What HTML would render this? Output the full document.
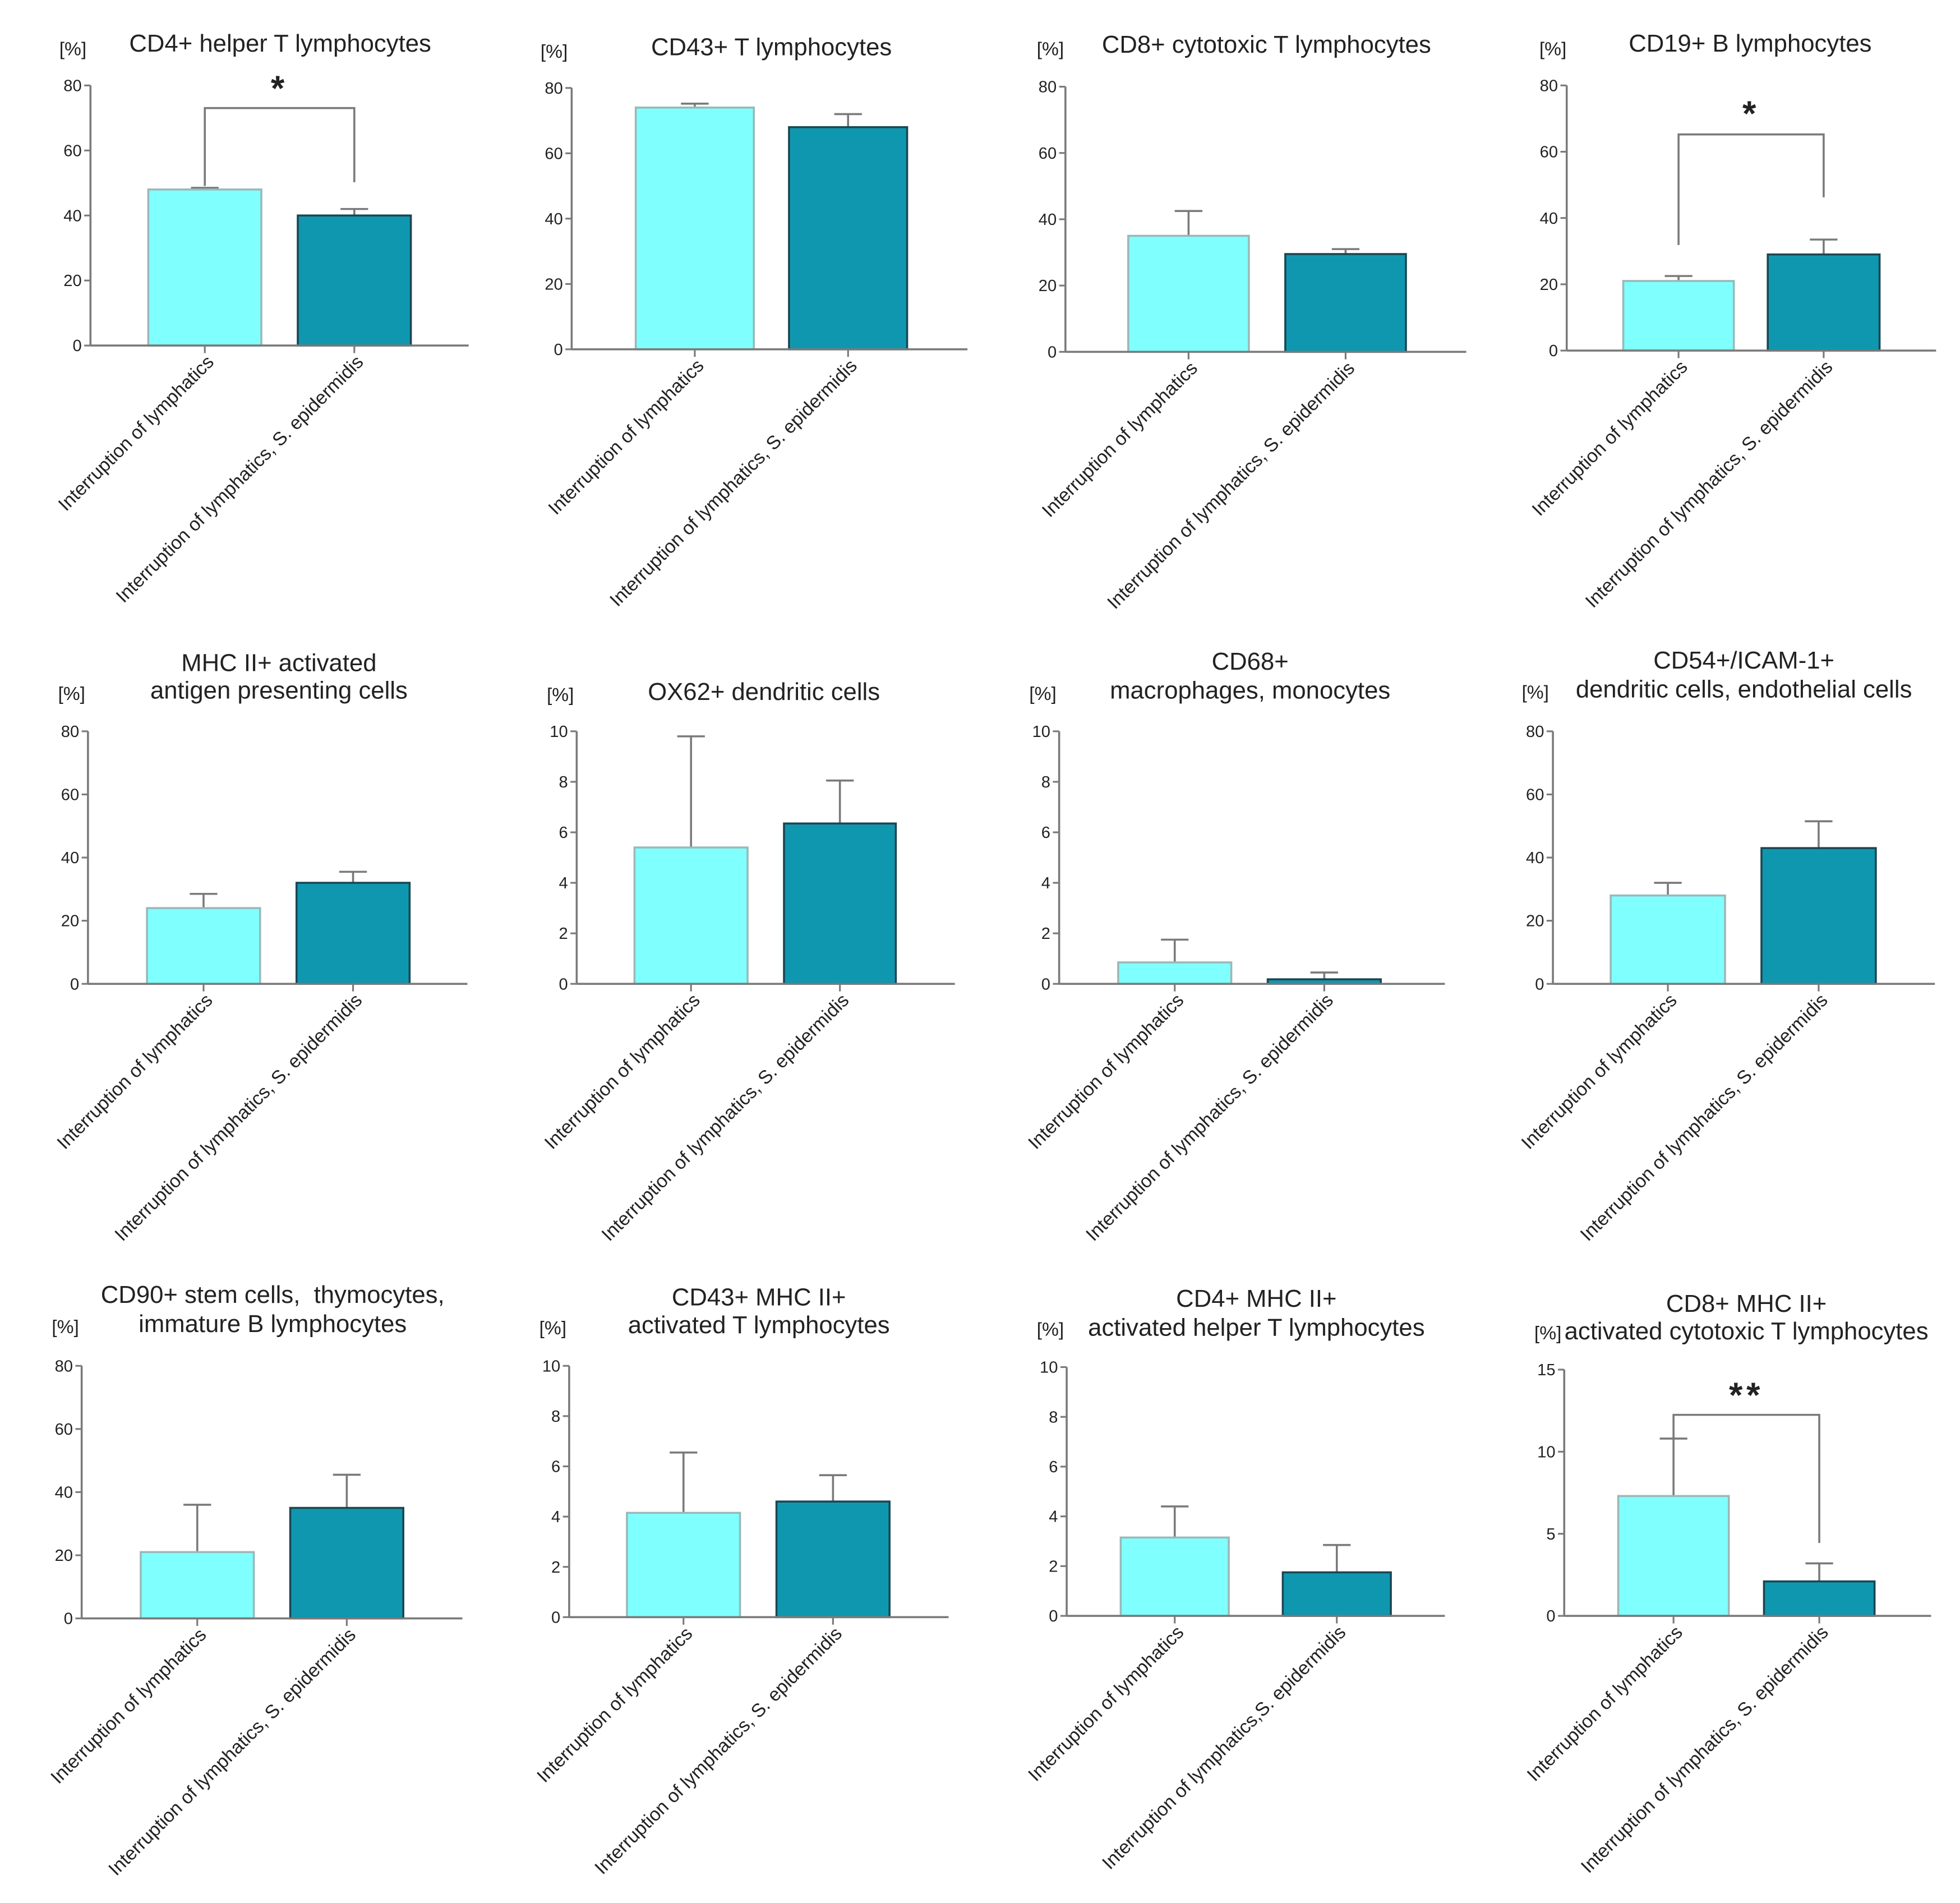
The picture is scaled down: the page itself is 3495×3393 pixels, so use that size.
<!DOCTYPE html>
<html><head><meta charset="utf-8">
<style>
html,body{margin:0;padding:0;background:#fff;}
svg{display:block;}
text{font-family:"Liberation Sans",Arial,sans-serif;fill:#222;white-space:pre;}
</style></head>
<body>
<svg id="fig" xmlns="http://www.w3.org/2000/svg" width="3495" height="3393" viewBox="0 0 1560 1514.5"></svg>
<script>
// ---- data ----
const categories = ["Interruption of lymphatics", "Interruption of lymphatics, S. epidermidis"];
const panelTitles = [
  ["CD4+ helper T lymphocytes"],
  ["CD43+ T lymphocytes"],
  ["CD8+ cytotoxic T lymphocytes"],
  ["CD19+ B lymphocytes"],
  ["MHC II+ activated","antigen presenting cells"],
  ["OX62+ dendritic cells"],
  ["CD68+","macrophages, monocytes"],
  ["CD54+/ICAM-1+","dendritic cells, endothelial cells"],
  ["CD90+ stem cells,  thymocytes,","immature B lymphocytes"],
  ["CD43+ MHC II+","activated T lymphocytes"],
  ["CD4+ MHC II+","activated helper T lymphocytes"],
  ["CD8+ MHC II+","activated cytotoxic T lymphocytes"]
];
const meanLymph = [48, 74, 35, 21, 24, 5.4, 0.85, 28, 21, 4.15, 3.15, 7.3];
const errLymph  = [0.5, 1.2, 7.5, 1.5, 4.5, 4.4, 0.9, 4, 15, 2.4, 1.25, 3.5];
const meanEpi   = [40, 68, 29.5, 29, 32, 6.35, 0.18, 43, 35, 4.6, 1.75, 2.1];
const errEpi    = [2, 4, 1.5, 4.5, 3.5, 1.7, 0.27, 8.5, 10.5, 1.05, 1.1, 1.1];
const yMaxes    = [80, 80, 80, 80, 80, 10, 10, 80, 80, 10, 10, 15];
const yStepVals = [20, 20, 20, 20, 20, 2, 2, 20, 20, 2, 2, 5];
const sigLabels = ["*", "", "", "*", "", "", "", "", "", "", "", "**"];

// ---- layout (pixel geometry, not data) ----
const L = [
 {ax:72, top:68, y0:275, end:373, b1:[118,208], b2:[237,327], tx:223, ty:[41], px:58, py:44, sig:{y:86,l:148,r:145,sy:80}},
 {ax:455,top:70, y0:278, end:770, b1:[506,600], b2:[628,722], tx:614, ty:[44], px:441,py:46},
 {ax:848,top:69, y0:280, end:1167,b1:[898,994], b2:[1023,1119],tx:1008,ty:[42], px:836,py:44},
 {ax:1247,top:68,y0:279, end:1541,b1:[1292,1380],b2:[1407,1496],tx:1393,ty:[41],px:1236,py:44, sig:{y:107,l:195,r:157,sy:100}},
 {ax:70, top:582,y0:783, end:372, b1:[117,207], b2:[236,326], tx:222, ty:[534,556], px:57, py:557},
 {ax:459,top:582,y0:783, end:760, b1:[505,595], b2:[624,713], tx:608, ty:[557], px:446,py:558},
 {ax:843,top:582,y0:783, end:1150,b1:[890,980], b2:[1009,1099],tx:995, ty:[533,556], px:830,py:557},
 {ax:1236,top:582,y0:783,end:1540,b1:[1282,1373],b2:[1402,1493],tx:1388,ty:[532,555],px:1222,py:556},
 {ax:65, top:1087,y0:1288,end:368, b1:[112,202], b2:[231,321], tx:217, ty:[1037,1060],px:52,py:1061},
 {ax:453,top:1087,y0:1287,end:755, b1:[499,589], b2:[618,708], tx:604, ty:[1039,1061],px:440,py:1062},
 {ax:849,top:1088,y0:1286,end:1150,b1:[892,978], b2:[1021,1107],tx:1000,ty:[1040,1063],px:836,py:1063},
 {ax:1245,top:1090,y0:1286,end:1537,b1:[1288,1376],b2:[1404,1492],tx:1390,ty:[1044,1066],px:1232,py:1066, sig:{y:1126,l:1145,r:1228,sy:1120}}
];
const catLabels11 = ["Interruption of lymphatics", "Interruption of lymphatics,S. epidermidis"];

const NS = "http://www.w3.org/2000/svg";
const fig = document.getElementById('fig');
function mk(tag, attrs, parent){
  const e = document.createElementNS(NS, tag);
  for (const k in attrs) e.setAttribute(k, attrs[k]);
  parent.appendChild(e); return e;
}
const AX = "#7a7a7a";

L.forEach((p, i) => {
  const g = mk('g', {}, fig);
  
  
  const yMax = yMaxes[i];
  const ys = v => p.y0 - (v / yMax) * (p.y0 - p.top);

  p.ty.forEach((ty, k) => {
    const t = mk('text', {x:p.tx, y:ty, 'font-size':19.5, 'text-anchor':'middle'}, g);
    t.textContent = panelTitles[i][k];
    
    
  });
  const u = mk('text', {x:p.px, y:p.py, 'font-size':15, 'text-anchor':'middle', fill:'#444'}, g);
  u.textContent = "[%]";
  
  

  const ya = mk('line', {x1:p.ax, y1:p.top, x2:p.ax, y2:p.y0, stroke:AX, 'stroke-width':1.6}, g);
  
  
  for (let v = 0; v <= yMax + 1e-9; v += yStepVals[i]) {
    const y = ys(v);
    mk('line', {x1:p.ax-5, y1:y, x2:p.ax, y2:y, stroke:AX, 'stroke-width':1.4}, g);
    const tl = mk('text', {x:p.ax-7, y:y+4.5, 'font-size':13, 'text-anchor':'end', fill:'#333'}, g);
    tl.textContent = String(v);
    
    
  }

  const means = [meanLymph[i], meanEpi[i]];
  const errs = [errLymph[i], errEpi[i]];
  const pos = [p.b1, p.b2];
  const fills = ['#80FFFF', '#1097B0'];
  const strokes = ['#9ab8b8', '#1b4652'];
  const cx = [];
  for (let b = 0; b < 2; b++) {
    const [x0, x1] = pos[b];
    const c = (x0 + x1) / 2; cx.push(c);
    const yt = ys(means[b]);
    const ye = ys(means[b] + errs[b]);
    const el = mk('line', {x1:c, y1:yt, x2:c, y2:ye, stroke:AX, 'stroke-width':1.6}, g);
    
    
    mk('line', {x1:c-11, y1:ye, x2:c+11, y2:ye, stroke:AX, 'stroke-width':1.6}, g);
    const r = mk('rect', {x:x0, y:yt, width:x1-x0, height:p.y0-yt, fill:fills[b], stroke:strokes[b], 'stroke-width':1.6}, g);
    
    
  }
  const xa = mk('line', {x1:p.ax, y1:p.y0, x2:p.end, y2:p.y0, stroke:AX, 'stroke-width':1.6}, g);
  
  
  for (let b = 0; b < 2; b++) {
    mk('line', {x1:cx[b], y1:p.y0, x2:cx[b], y2:p.y0+6, stroke:AX, 'stroke-width':1.4}, g);
    const lx = cx[b] + 8, ly = p.y0 + 14;
    const t = mk('text', {x:lx, y:ly, 'font-size':15, 'text-anchor':'end', fill:'#333',
      transform:`rotate(-45 ${lx} ${ly})`}, g);
    t.textContent = (i === 10 ? catLabels11 : categories)[b];
    
    
  }

  if (sigLabels[i] && p.sig) {
    const s = p.sig;
    const br = mk('path', {d:`M${cx[0]} ${s.l} V${s.y} H${cx[1]} V${s.r}`, fill:'none', stroke:AX, 'stroke-width':1.6}, g);
    
    
    const st = mk('text', {x:(cx[0]+cx[1])/2, y:s.sy, 'font-size':28, 'font-weight':'bold', 'text-anchor':'middle', 'letter-spacing':'3', fill:'#111'}, g);
    st.textContent = sigLabels[i];
    
    
  }
});
</script>
</body></html>
